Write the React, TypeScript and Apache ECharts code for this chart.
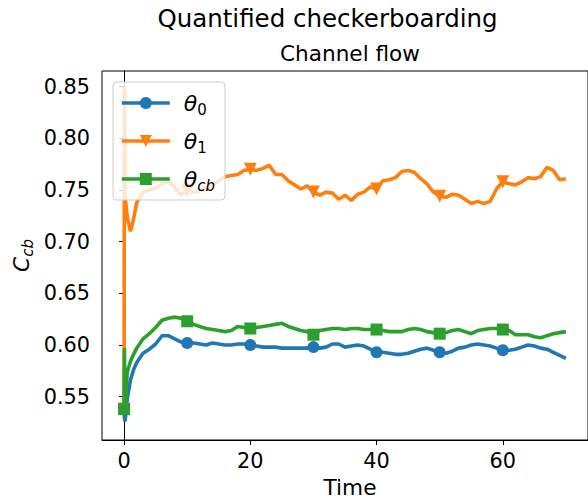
import React, { useEffect, useRef } from "react";
import * as echarts from "echarts";

const TIME = [
  0, 0.05, 0.15, 0.5, 1, 1.5, 2,
  3, 4, 5, 6, 7, 8, 9, 10,
  11, 12, 13, 14, 15, 16, 17, 18, 19, 20,
  21, 22, 23, 24, 25, 26, 27, 28, 29, 30,
  31, 32, 33, 34, 35, 36, 37, 38, 39, 40,
  41, 42, 43, 44, 45, 46, 47, 48, 49, 50,
  51, 52, 53, 54, 55, 56, 57, 58, 59, 60,
  61, 62, 63, 64, 65, 66, 67, 68, 69, 70,
];

const THETA_0 = [
  0.538, 0.53, 0.526, 0.548, 0.566, 0.576, 0.583,
  0.592, 0.596, 0.601, 0.609, 0.609, 0.606, 0.603, 0.602,
  0.602, 0.601, 0.6, 0.602, 0.601, 0.6, 0.6, 0.601, 0.601, 0.6,
  0.599, 0.598, 0.598, 0.598, 0.597, 0.597, 0.597, 0.597, 0.597, 0.598,
  0.597, 0.598, 0.601, 0.601, 0.598, 0.599, 0.6, 0.599, 0.596, 0.593,
  0.593, 0.592, 0.591, 0.591, 0.592, 0.594, 0.596, 0.597, 0.595, 0.593,
  0.592, 0.594, 0.597, 0.598, 0.6, 0.601, 0.6, 0.599, 0.597, 0.595,
  0.595, 0.596, 0.598, 0.6, 0.599, 0.597, 0.596, 0.593, 0.59, 0.587,
];

const THETA_1 = [
  0.538, 0.85, 0.745, 0.724, 0.71, 0.722, 0.738,
  0.748, 0.75, 0.752, 0.756, 0.758, 0.753, 0.745, 0.75,
  0.748, 0.749, 0.752, 0.755, 0.759, 0.763, 0.764, 0.765, 0.769, 0.77,
  0.769, 0.771, 0.774, 0.765, 0.765, 0.759, 0.755, 0.751, 0.754, 0.748,
  0.745, 0.748, 0.747, 0.741, 0.745, 0.74, 0.746, 0.748, 0.753, 0.751,
  0.759, 0.76, 0.762, 0.768, 0.769, 0.767, 0.761, 0.756, 0.748, 0.744,
  0.743, 0.746, 0.745, 0.741, 0.737, 0.739, 0.737, 0.739, 0.751, 0.758,
  0.756, 0.755, 0.758, 0.762, 0.761, 0.763, 0.772, 0.769, 0.76, 0.761,
];

const THETA_CB = [
  0.538, 0.597, 0.535, 0.574, 0.584, 0.591, 0.597,
  0.606, 0.611, 0.617, 0.624, 0.626, 0.627, 0.626, 0.623,
  0.62, 0.618, 0.616, 0.615, 0.614, 0.613, 0.614, 0.618, 0.617, 0.616,
  0.617, 0.618, 0.619, 0.62, 0.621, 0.618, 0.616, 0.614, 0.613, 0.61,
  0.614, 0.615, 0.616, 0.616, 0.615, 0.616, 0.616, 0.615, 0.615, 0.615,
  0.614, 0.613, 0.613, 0.613, 0.615, 0.616, 0.615, 0.613, 0.612, 0.611,
  0.612, 0.614, 0.615, 0.613, 0.611, 0.614, 0.615, 0.616, 0.616, 0.615,
  0.614, 0.61, 0.61, 0.61, 0.608, 0.607, 0.609, 0.611, 0.612, 0.613,
];

const MARK_TIMES = [0, 10, 20, 30, 40, 50, 60];
const X_TICKS = [0, 20, 40, 60];
const Y_TICKS = [0.55, 0.6, 0.65, 0.7, 0.75, 0.8, 0.85];

const SERIES_NAMES = ["θ0", "θ1", "θcb"];
const LEGEND_LABELS: Record<string, string> = {
  "θ0": "{i|θ}{d|0}",
  "θ1": "{i|θ}{d|1}",
  "θcb": "{i|θ}{v|cb}",
};

const FONT = "DejaVu Sans";

function buildData(values: number[]) {
  return TIME.map((t, i) =>
    MARK_TIMES.includes(t)
      ? { value: [t, values[i]] }
      : { value: [t, values[i]], symbol: "none" }
  );
}

export default function App() {
  const ref = useRef<HTMLDivElement>(null);

  useEffect(() => {
    if (!ref.current) return;
    const chart = echarts.init(ref.current, undefined, { renderer: "svg" });

    const lineCommon = {
      type: "line" as const,
      showSymbol: true,
      showAllSymbol: true,
      symbolSize: 12,
      smooth: false,
      silent: true,
      clip: true,
    };

    chart.setOption({
      animation: false,
      backgroundColor: "#ffffff",
      grid: {
        left: 102,
        top: 71,
        width: 496,
        height: 369,
        show: true,
        borderColor: "#000000",
        borderWidth: 1,
        backgroundColor: "transparent",
        containLabel: false,
      },
      xAxis: {
        type: "value",
        min: -3.5,
        max: 73.5,
        axisLine: { show: true, lineStyle: { color: "#000000", width: 1 } },
        axisTick: {
          show: true,
          length: 5,
          inside: false,
          customValues: X_TICKS,
          lineStyle: { color: "#000000", width: 1 },
        },
        axisLabel: {
          customValues: X_TICKS,
          margin: 10,
          fontSize: 20.8,
          fontFamily: FONT,
          color: "#000000",
        },
        splitLine: { show: false },
      },
      yAxis: {
        type: "value",
        min: 0.5081,
        max: 0.8652,
        axisLine: { show: true, lineStyle: { color: "#000000", width: 1 } },
        axisTick: {
          show: true,
          length: 5,
          inside: false,
          customValues: Y_TICKS,
          lineStyle: { color: "#000000", width: 1 },
        },
        axisLabel: {
          customValues: Y_TICKS,
          margin: 12,
          fontSize: 20.8,
          fontFamily: FONT,
          color: "#000000",
          formatter: (v: number) => v.toFixed(2),
        },
        splitLine: { show: false },
      },
      legend: {
        show: true,
        orient: "vertical",
        left: 113,
        top: 82,
        padding: [7, 10, 7, 7],
        itemGap: 10,
        itemWidth: 48,
        itemHeight: 15,
        selectedMode: false,
        backgroundColor: "rgba(255,255,255,0.8)",
        borderColor: "#cccccc",
        borderWidth: 1,
        borderRadius: 4,
        lineStyle: { width: 3.6 },
        data: SERIES_NAMES,
        formatter: (name: string) => LEGEND_LABELS[name] || name,
        textStyle: {
          color: "#000000",
          fontFamily: FONT,
          fontSize: 22,
          lineHeight: 28,
          height: 28,
          rich: {
            i: {
              fontFamily: FONT,
              fontStyle: "italic",
              fontSize: 22,
              lineHeight: 28,
              color: "#000000",
              padding: [0, 0, 0, 9],
            },
            d: {
              fontFamily: FONT,
              fontSize: 15,
              lineHeight: 14,
              verticalAlign: "bottom",
              color: "#000000",
            },
            v: {
              fontFamily: FONT,
              fontStyle: "italic",
              fontSize: 15,
              lineHeight: 14,
              verticalAlign: "bottom",
              color: "#000000",
            },
          },
        },
      },
      graphic: [
        {
          type: "text",
          x: 327.5,
          y: 18.5,
          silent: true,
          style: {
            text: "Quantified checkerboarding",
            fontFamily: FONT,
            fontSize: 24.5,
            fill: "#000000",
            align: "center",
            verticalAlign: "middle",
          },
        },
        {
          type: "text",
          x: 350,
          y: 53.5,
          silent: true,
          style: {
            text: "Channel flow",
            fontFamily: FONT,
            fontSize: 21.6,
            fill: "#000000",
            align: "center",
            verticalAlign: "middle",
          },
        },
        {
          type: "text",
          x: 350,
          y: 487,
          silent: true,
          style: {
            text: "Time",
            fontFamily: FONT,
            fontSize: 21.6,
            fill: "#000000",
            align: "center",
            verticalAlign: "middle",
          },
        },
        {
          type: "text",
          x: 21.5,
          y: 255.5,
          rotation: Math.PI / 2,
          silent: true,
          style: {
            text: "{c|C}{s|cb}",
            fontFamily: FONT,
            fontSize: 21.6,
            fill: "#000000",
            align: "center",
            verticalAlign: "middle",
            rich: {
              c: {
                fontFamily: FONT,
                fontStyle: "italic",
                fontSize: 21.6,
                lineHeight: 28,
                fill: "#000000",
              },
              s: {
                fontFamily: FONT,
                fontStyle: "italic",
                fontSize: 15,
                lineHeight: 14,
                verticalAlign: "bottom",
                fill: "#000000",
              },
            },
          },
        },
      ],
      series: [
        {
          ...lineCommon,
          name: SERIES_NAMES[0],
          symbol: "circle",
          itemStyle: { color: "#1f77b4" },
          lineStyle: { color: "#1f77b4", width: 3.6 },
          data: buildData(THETA_0),
          z: 2,
        },
        {
          ...lineCommon,
          name: SERIES_NAMES[1],
          symbol: "triangle",
          symbolRotate: 180,
          symbolSize: 13,
          itemStyle: { color: "#ff7f0e" },
          lineStyle: { color: "#ff7f0e", width: 3.6 },
          data: buildData(THETA_1),
          z: 3,
        },
        {
          ...lineCommon,
          name: SERIES_NAMES[2],
          symbol: "rect",
          itemStyle: { color: "#2ca02c" },
          lineStyle: { color: "#2ca02c", width: 3.6 },
          data: buildData(THETA_CB),
          z: 4,
        },
      ],
    });

    return () => {
      chart.dispose();
    };
  }, []);

  return (
    <div
      ref={ref}
      style={{
        position: "fixed",
        left: 0,
        top: 0,
        width: 588,
        height: 501,
        background: "#ffffff",
      }}
    />
  );
}
